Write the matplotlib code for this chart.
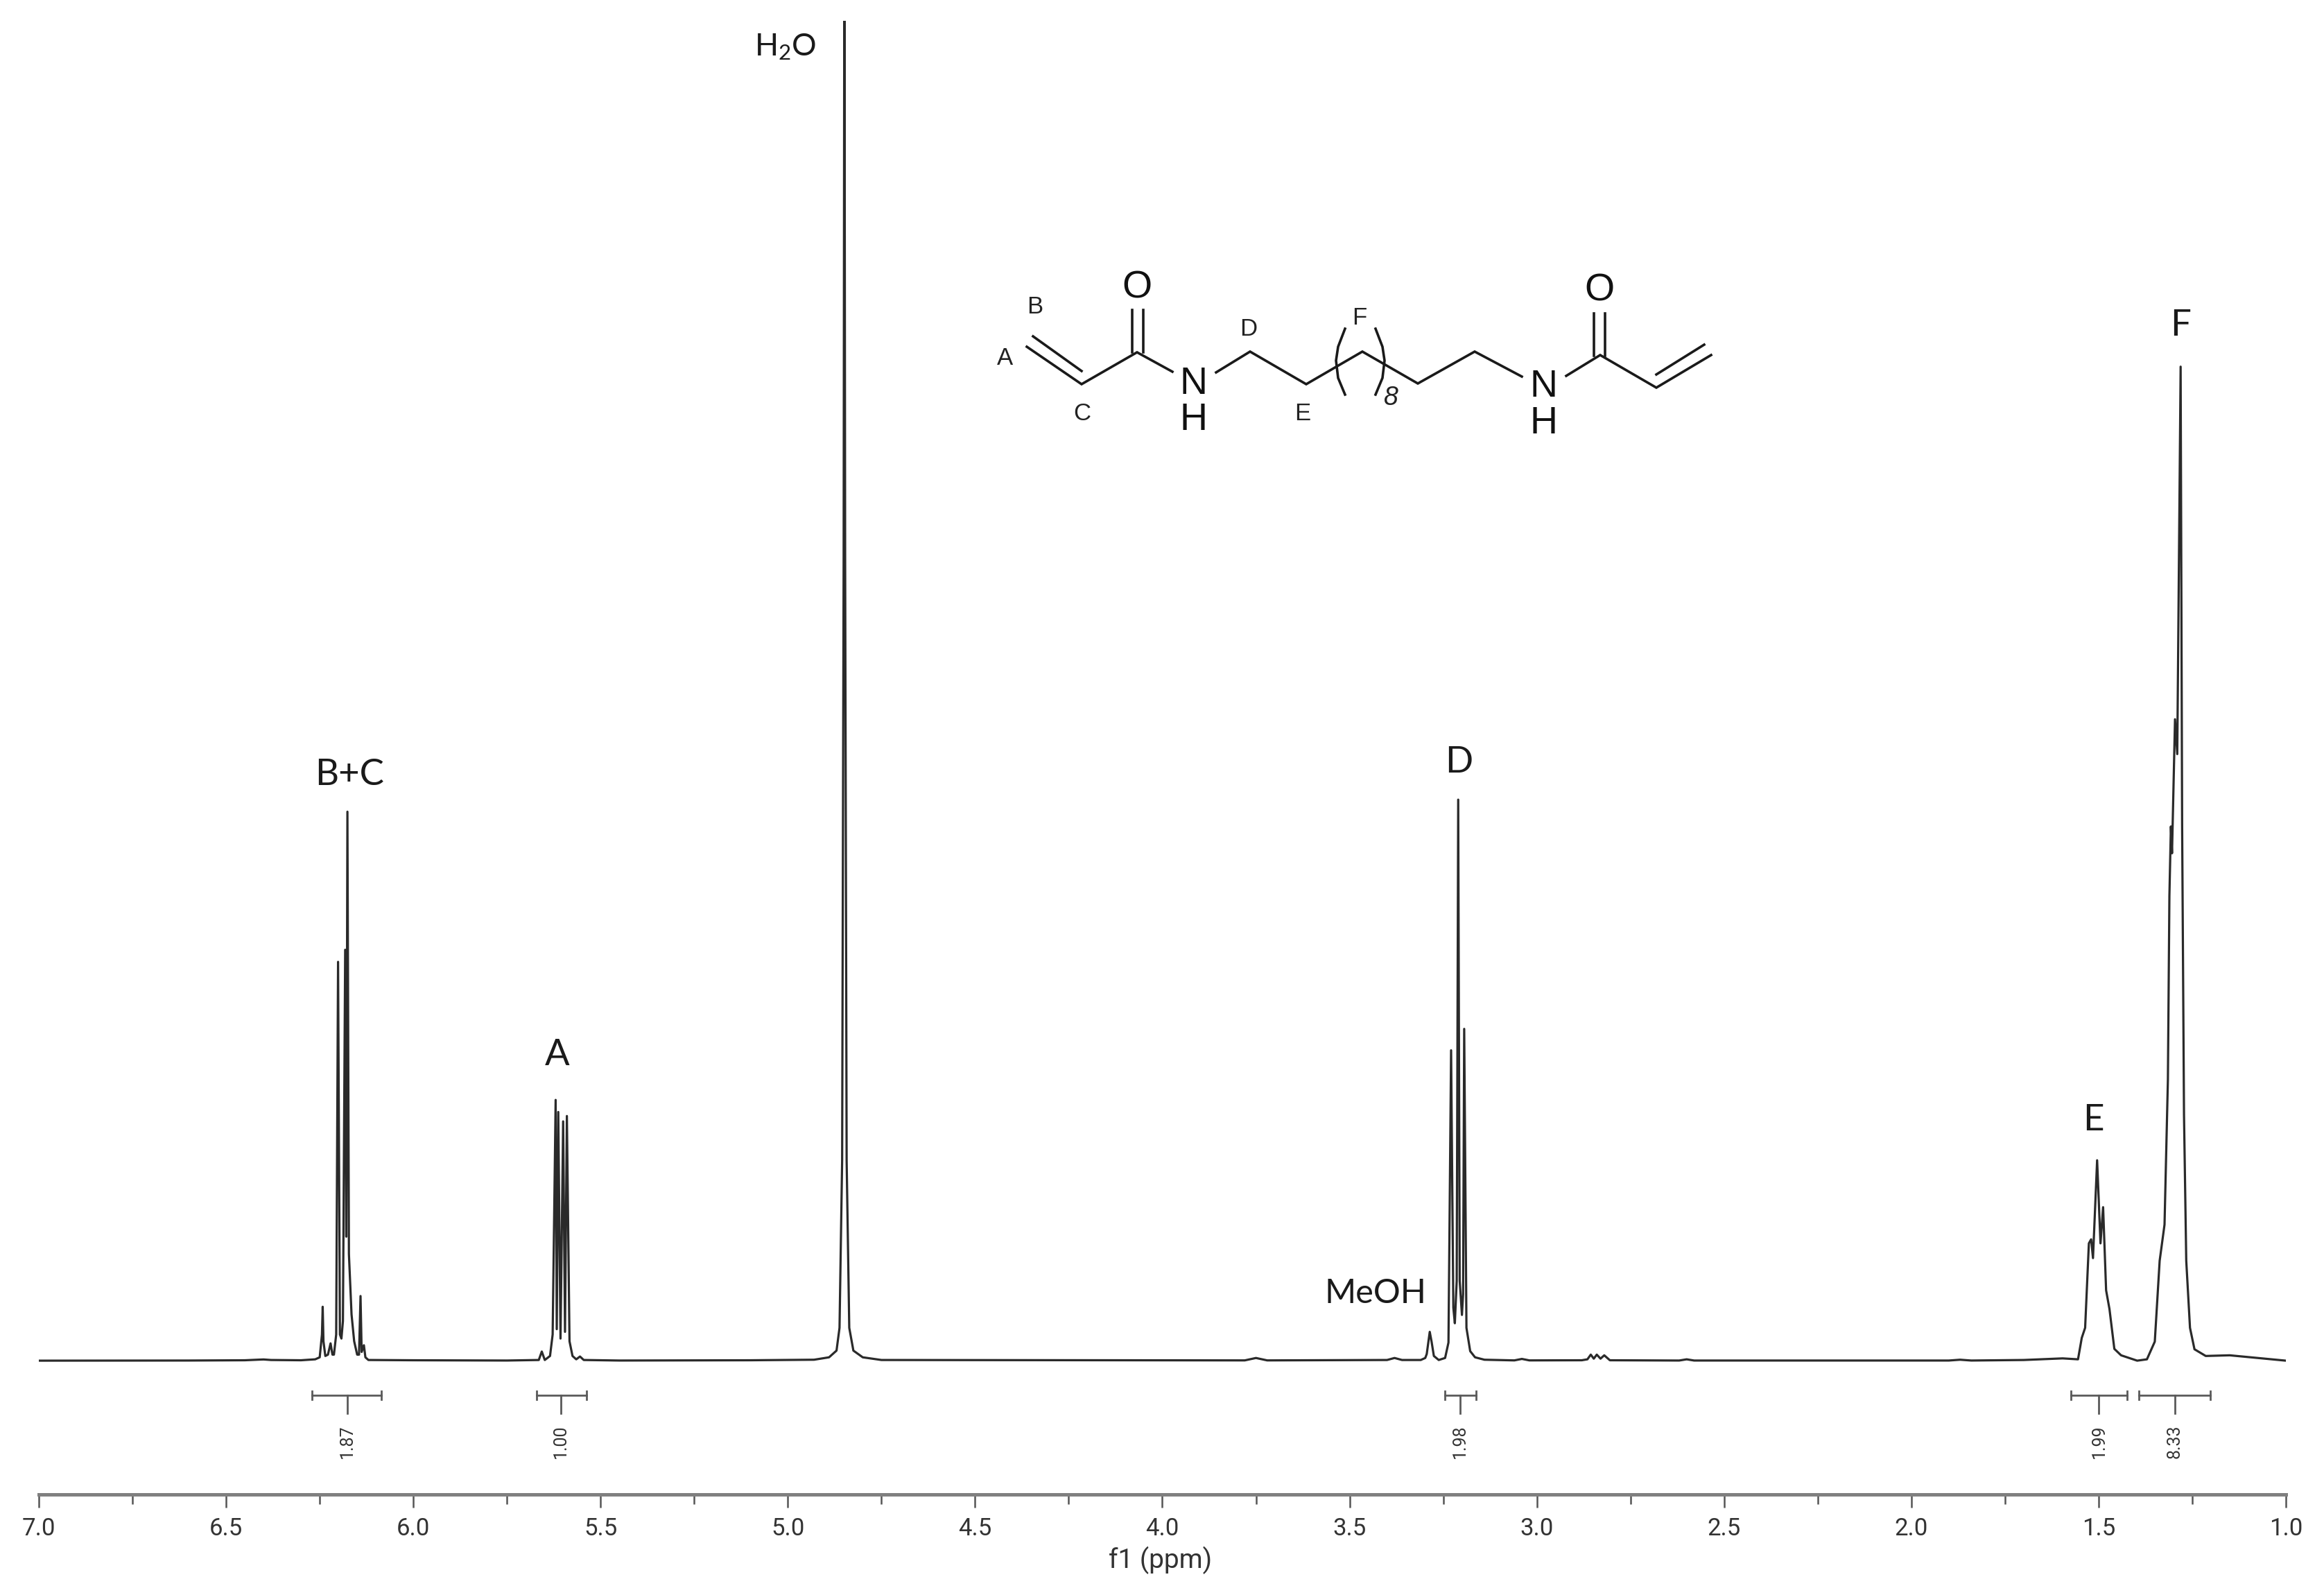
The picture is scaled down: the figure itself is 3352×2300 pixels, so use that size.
import matplotlib
matplotlib.use("Agg")
import matplotlib.pyplot as plt
from matplotlib.ticker import MultipleLocator

# 1H NMR trace (intensity 100 = top of the plot, H2O is clipped there)
ppm_bc = [7.0, 6.6, 6.45, 6.40, 6.38, 6.30, 6.262, 6.25, 6.244, 6.242, 6.24, 6.235, 6.228, 6.221, 6.216,
          6.212, 6.206, 6.201, 6.196, 6.192, 6.188, 6.182, 6.179, 6.176, 6.172, 6.165, 6.158, 6.150,
          6.145, 6.141, 6.138, 6.132, 6.128, 6.12, 6.0]
int_bc = [0.05, 0.06, 0.08, 0.14, 0.1, 0.08, 0.15, 0.3, 2.0, 4.07, 1.5, 0.4, 0.5, 1.34, 0.5,
          0.5, 2.0, 29.8, 2.0, 1.7, 3.0, 30.7, 9.3, 41.0, 8.0, 3.5, 1.5, 0.5,
          0.5, 4.87, 0.7, 1.2, 0.3, 0.1, 0.08]

ppm_a = [5.75, 5.665, 5.657, 5.649, 5.635, 5.628, 5.620, 5.617, 5.613, 5.607, 5.600, 5.595, 5.590,
         5.583, 5.575, 5.565, 5.555, 5.545, 5.45]
int_a = [0.06, 0.1, 0.73, 0.1, 0.4, 2.0, 19.5, 2.4, 18.6, 1.7, 17.9, 2.2, 18.3,
         1.5, 0.4, 0.15, 0.36, 0.1, 0.06]

ppm_h2o = [5.1, 4.93, 4.89, 4.87, 4.862, 4.855, 4.851, 4.849, 4.847, 4.843, 4.836, 4.825, 4.80, 4.75]
int_h2o = [0.08, 0.12, 0.3, 0.8, 2.5, 15.0, 60.0, 110.0, 60.0, 15.0, 2.5, 0.8, 0.3, 0.1]

ppm_d = [3.78, 3.75, 3.72, 3.40, 3.38, 3.36, 3.31, 3.298, 3.294, 3.286, 3.281, 3.275, 3.262, 3.245, 3.236,
         3.229, 3.223, 3.219, 3.214, 3.210, 3.206, 3.200, 3.197, 3.194, 3.188, 3.178, 3.165, 3.14, 3.06,
         3.04, 3.02, 2.88, 2.865, 2.856, 2.848, 2.84, 2.83, 2.82, 2.805, 2.62, 2.60, 2.58, 1.9, 1.87, 1.84, 1.7]
int_d = [0.07, 0.25, 0.07, 0.1, 0.25, 0.1, 0.1, 0.25, 0.55, 2.2, 1.45, 0.4, 0.1, 0.25, 1.4,
         23.2, 4.0, 2.84, 6.0, 41.9, 6.0, 3.46, 5.0, 24.8, 2.5, 0.76, 0.3, 0.12, 0.07,
         0.18, 0.07, 0.08, 0.15, 0.5, 0.2, 0.5, 0.2, 0.45, 0.08, 0.06, 0.15, 0.06, 0.06, 0.12, 0.06, 0.1]

ppm_ef = [1.596, 1.555, 1.545, 1.536, 1.526, 1.520, 1.515, 1.504, 1.495, 1.488, 1.480, 1.471, 1.458, 1.44,
          1.397, 1.371, 1.350, 1.337, 1.324, 1.315, 1.311, 1.307, 1.304, 1.299, 1.296, 1.290, 1.281,
          1.277, 1.272, 1.266, 1.256, 1.244, 1.214, 1.15, 1.057, 1.0]
int_ef = [0.22, 0.15, 1.75, 2.5, 8.8, 9.1, 7.7, 15.0, 8.8, 11.5, 5.3, 3.9, 0.93, 0.45,
          0.05, 0.15, 1.47, 7.5, 10.2, 21.0, 34.7, 39.9, 37.9, 44.0, 47.9, 45.3, 74.2,
          40.0, 18.4, 7.5, 2.5, 0.9, 0.4, 0.45, 0.2, 0.05]

# integrals: start, end, stem position, value
int_start = [6.271, 5.670, 3.246, 1.574, 1.393]
int_end = [6.086, 5.538, 3.162, 1.424, 1.202]
int_stem = [6.176, 5.606, 3.205, 1.499, 1.297]
int_values = ["1.87", "1.00", "1.98", "1.99", "8.33"]

# peak labels, in pixels of the 3352x2300 image
peak_labels = ["H$_2$O", "B+C", "A", "MeOH", "D", "E", "F"]
label_x = [1133, 504, 804, 1984, 2104, 3019, 3145]
label_y = [68, 1118, 1522, 1865, 1099, 1615, 470]
label_size = [32, 38, 38, 35, 38, 38, 38]

# structure drawing, same pixels
mol_bonds = [
    [(1481, 500), (1560, 554), (1640, 508), (1691, 536)],
    [(1490, 485), (1560, 535)],
    [(1633, 508), (1633, 447)],
    [(1649, 508), (1649, 447)],
    [(1754, 537), (1803, 507), (1884, 554), (1965, 507), (2045, 553), (2127, 507), (2195, 543)],
    [(2259, 542), (2308, 512), (2389, 559), (2468, 512)],
    [(2389, 540), (2458, 497)],
    [(2299, 513), (2299, 452)],
    [(2315, 513), (2315, 452)],
]
mol_paren_l = [(1940, 474), (1930, 500), (1927, 520), (1930, 545), (1940, 569)]
mol_paren_r = [(1984, 474), (1994, 500), (1997, 520), (1994, 545), (1984, 569)]
mol_atoms = ["O", "N", "H", "O", "N", "H"]
mol_atom_x = [1640, 1721, 1721, 2307, 2226, 2226]
mol_atom_y = [415, 554, 606, 420, 558, 611]
mol_tags = ["A", "B", "C", "D", "E", "F"]
mol_tag_x = [1449, 1493, 1561, 1801, 1879, 1961]
mol_tag_y = [517, 443, 596, 474, 596, 459]

plt.rcParams['font.family'] = ['Roboto', 'DejaVu Sans']
plt.rcParams['mathtext.default'] = 'regular'

W, H = 3352, 2300
fig = plt.figure(figsize=(W / 100, H / 100), dpi=100, facecolor='white')

# plot area: 7.0 at 56 px, 1.0 at 3297 px, axis line at 2155 px, top at 30 px
ax = fig.add_axes([56 / W, (H - 2155) / H, (3297 - 56) / W, (2155 - 30) / H])
ax.set_xlim(7.0, 1.0)
ax.set_ylim(-9.93, 100)

ppm = ppm_bc + ppm_a + ppm_h2o + ppm_d + ppm_ef
intensity = int_bc + int_a + int_h2o + int_d + int_ef
ax.plot(ppm, intensity, color='#2a2a2a', lw=2.3, solid_joinstyle='round')

# integral brackets under the peaks
for a, b, s, v in zip(int_start, int_end, int_stem, int_values):
    ax.plot([a, b], [-2.53, -2.53], color='#5a5a5a', lw=2)
    ax.plot([a, a], [-2.85, -2.2], color='#5a5a5a', lw=2)
    ax.plot([b, b], [-2.85, -2.2], color='#5a5a5a', lw=2)
    ax.plot([s, s], [-2.53, -3.88], color='#5a5a5a', lw=2)
    ax.text(s, -6.0, v, rotation=90, ha='center', va='center', fontsize=18, color='#333333')

for side in ['top', 'left', 'right']:
    ax.spines[side].set_visible(False)
ax.spines['bottom'].set_linewidth(3.6)
ax.spines['bottom'].set_color('#808080')
ax.set_yticks([])
ax.xaxis.set_major_locator(MultipleLocator(0.5))
ax.xaxis.set_minor_locator(MultipleLocator(0.25))
ax.tick_params(axis='x', which='major', length=14, width=1.8, color='#555555', labelsize=25,
               labelcolor='#333333', pad=10)
ax.tick_params(axis='x', which='minor', length=10, width=1.8, color='#555555')
ax.xaxis.set_major_formatter(lambda v, pos: f"{v:.1f}")

# overlay in image pixels for the labels and the structure
over = fig.add_axes([0, 0, 1, 1], facecolor='none')
over.set_xlim(0, W)
over.set_ylim(H, 0)
over.axis('off')

over.text(1674, 2250, "f1 (ppm)", ha='center', va='center', fontsize=28, color='#333333')

for t, x, y, s in zip(peak_labels, label_x, label_y, label_size):
    over.text(x, y, t, ha='center', va='center', fontsize=s, color='#1a1a1a', family='Lato')

for bond in mol_bonds + [mol_paren_l, mol_paren_r]:
    over.plot([p[0] for p in bond], [p[1] for p in bond], color='#1a1a1a', lw=2.6, solid_joinstyle='miter')
for t, x, y in zip(mol_atoms, mol_atom_x, mol_atom_y):
    over.text(x, y, t, ha='center', va='center', fontsize=40, color='#111111', family='Liberation Sans')
for t, x, y in zip(mol_tags, mol_tag_x, mol_tag_y):
    over.text(x, y, t, ha='center', va='center', fontsize=25, color='#222222', family='Liberation Sans')
over.text(2005, 574, "8", ha='center', va='center', fontsize=27, style='italic', color='#222222',
          family='Liberation Sans')

fig.savefig("out.png", dpi=100)
